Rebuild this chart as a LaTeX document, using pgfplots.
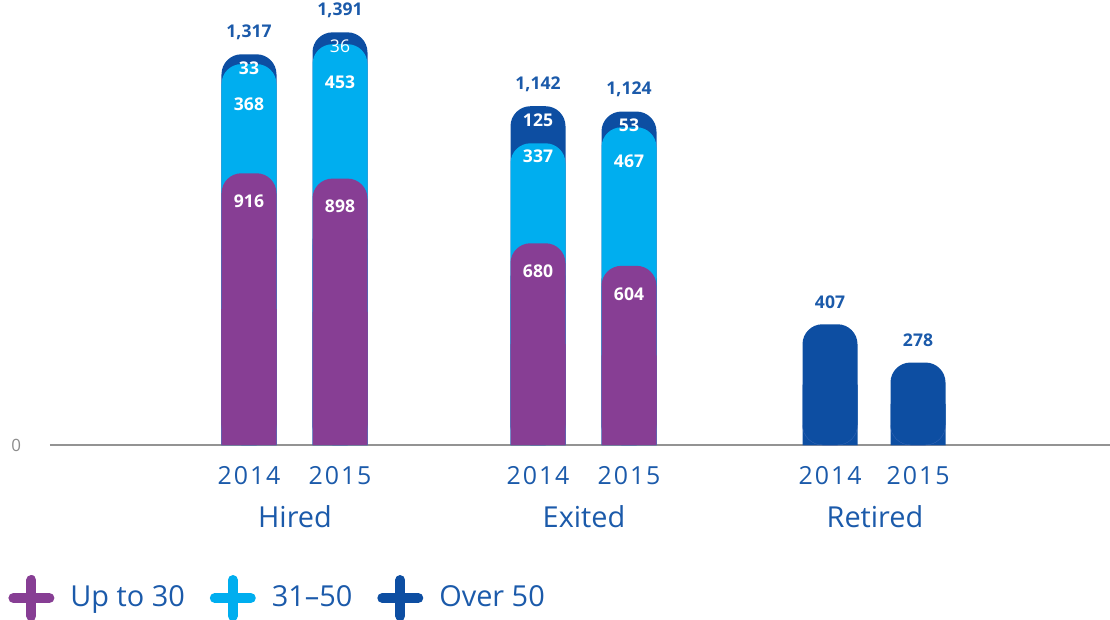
\documentclass[border=0pt]{standalone}
\usepackage{pgfplots}
\pgfplotsset{compat=1.18}
\usepackage{pgfplotstable}
\usepackage{fontspec}
\setmainfont{Open Sans}
\definecolor{cpurple}{HTML}{873E94}
\definecolor{ccyan}{HTML}{00AEEF}
\definecolor{cdark}{HTML}{0D4EA2}
\definecolor{ctext}{HTML}{1B5AAA}
\pgfplotstableread{
x   young mid old  total ylab mlab olab tlab
249 916   368 33   1317  916  368  33   1,317
340 898   453 36   1391  898  453  {\mdseries 36}   1,391
538 680   337 125  1142  680  337  125  1,142
629 604   467 53   1124  604  467  53   1,124
830 0     0   407  407   {}   {}   {}   407
918 0     0   278  278   {}   {}   {}   278
}\datatable
\begin{document}
\begin{tikzpicture}
\begin{axis}[
  scale only axis, width=530bp, height=222.5bp,
  xmin=50, xmax=1110, ymin=0, ymax=1500,
  clip=false,
  axis x line=bottom, axis y line=left,
  x axis line style={-, draw=gray!85, line width=0.8bp},
  y axis line style={draw=none},
  major tick length=0pt,
  /pgf/number format/assume math mode=true,
  ytick={0},
  yticklabel style={font=\fontsize{8.5}{10}\selectfont, text=gray!90, xshift=-11bp},
  xtick={249,340,538,629,830,918},
  xticklabels={2014,2015,2014,2015,2014,2015},
  xticklabel style={font=\fontsize{12.5}{14}\selectfont\addfontfeatures{LetterSpace=8}, text=ctext},
  xticklabel shift=7bp,
  extra x ticks={295,584,875},
  extra x tick labels={Hired,Exited,Retired},
  extra x tick style={xticklabel style={font=\fontsize{14.5}{16}\selectfont, text=ctext}, xticklabel shift=27bp},
  legend style={at={(axis description cs:0,0)}, anchor=west, xshift=-21bp, yshift=-76.5bp,
    draw=none, fill=none, inner sep=0pt, font=\fontsize{14.5}{16}\selectfont, text=ctext,
    /tikz/every odd column/.append style={column sep=6bp},
    /tikz/every even column/.append style={column sep=10.5bp}},
  legend columns=3,
]
% dark blue layer (total)
\addplot[ybar, bar width=55, fill=cdark, draw=none, rounded corners=10bp, forget plot] table[x=x, y=total] \datatable;
\addplot[ybar, bar width=55, fill=cdark, draw=none, forget plot] table[x=x, y expr=0.5*\thisrow{total}] \datatable;
% cyan layer (cumulative up to 50)
\addplot[ybar, bar width=55, fill=ccyan, draw=none, rounded corners=10bp, forget plot] table[x=x, y expr=\thisrow{young}+\thisrow{mid}] \datatable;
\addplot[ybar, bar width=55, fill=ccyan, draw=none, forget plot] table[x=x, y expr=0.5*(\thisrow{young}+\thisrow{mid})] \datatable;
% purple layer
\addplot[ybar, bar width=55, fill=cpurple, draw=none, rounded corners=10bp, forget plot] table[x=x, y=young] \datatable;
\addplot[ybar, bar width=55, fill=cpurple, draw=none, forget plot] table[x=x, y expr=0.5*\thisrow{young}] \datatable;
% labels
\addplot[draw=none, mark=none, forget plot, nodes near coords, point meta=explicit symbolic,
  every node near coord/.append style={anchor=center, yshift=11bp, font=\fontsize{8.8}{10}\selectfont\bfseries, text=ctext}]
  table[x=x, y=total, meta=tlab] \datatable;
\addplot[draw=none, mark=none, forget plot, nodes near coords, point meta=explicit symbolic,
  every node near coord/.append style={anchor=center, yshift=-7bp, font=\fontsize{8.8}{10}\selectfont\bfseries, text=white}]
  table[x=x, y=total, meta=olab] \datatable;
\addplot[draw=none, mark=none, forget plot, nodes near coords, point meta=explicit symbolic,
  every node near coord/.append style={anchor=center, yshift=-25bp, font=\fontsize{8.8}{10}\selectfont\bfseries, text=white}]
  table[x=x, y=total, meta=mlab] \datatable;
\addplot[draw=none, mark=none, forget plot, nodes near coords, point meta=explicit symbolic,
  every node near coord/.append style={anchor=center, yshift=-14bp, font=\fontsize{8.8}{10}\selectfont\bfseries, text=white}]
  table[x=x, y=young, meta=ylab] \datatable;
% legend
\addlegendimage{legend image code/.code={\draw[cpurple, line width=5bp, line cap=round] (2.5bp,0)--(20.5bp,0) (11.5bp,-9bp)--(11.5bp,9bp);}}
\addlegendentry{Up to 30}
\addlegendimage{legend image code/.code={\draw[ccyan, line width=5bp, line cap=round] (2.5bp,0)--(20.5bp,0) (11.5bp,-9bp)--(11.5bp,9bp);}}
\addlegendentry{31–50}
\addlegendimage{legend image code/.code={\draw[cdark, line width=5bp, line cap=round] (2.5bp,0)--(20.5bp,0) (11.5bp,-9bp)--(11.5bp,9bp);}}
\addlegendentry{Over 50}
\coordinate (bl) at (axis description cs:0,0);
\end{axis}
\pgfresetboundingbox
\path ([xshift=-25bp,yshift=-87.5bp]bl) rectangle ([xshift=530bp,yshift=222.5bp]bl);
\end{tikzpicture}
\end{document}
